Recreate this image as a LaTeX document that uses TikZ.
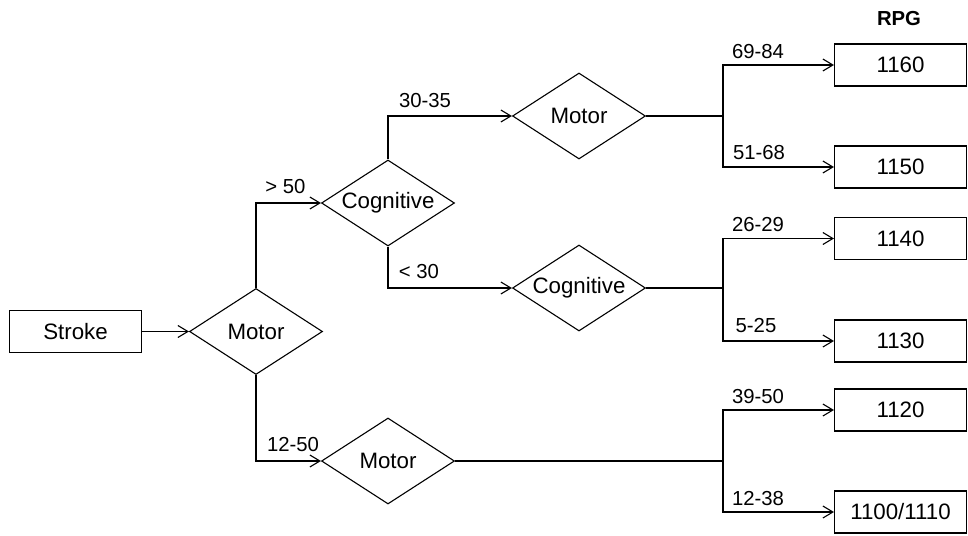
\documentclass[tikz,border=0pt]{standalone}
\usepackage{fontspec}
\setmainfont{Liberation Sans}
\usetikzlibrary{shapes.geometric,arrows.meta}
\begin{document}
\begin{tikzpicture}[x=1pt,y=-1pt,
  every node/.style={font=\fontsize{22.3}{26}\selectfont},
  dec/.style={draw,diamond,aspect=1.55,inner sep=0pt,minimum width=133pt,minimum height=86pt,line width=1.1pt},
  outbox/.style={draw,rectangle,minimum width=132pt,minimum height=42pt,inner sep=0pt,line width=1.1pt},
  conn/.style={line width=1.1pt,-{Straight Barb[length=10pt,width=12pt,line width=1.1pt]}},
  plain/.style={line width=1.1pt},
  lbl/.style={inner sep=0pt,font=\fontsize{20.3}{24}\selectfont}
]
\useasboundingbox (0,0) rectangle (968,535);
\node[outbox] (stroke) at (75.5,331.5) {Stroke};
\node[dec] (m1) at (256,331.5) {Motor};
\node[dec] (c1) at (388,203) {Cognitive};
\node[dec] (m2) at (579,116) {Motor};
\node[dec] (c2) at (579,288) {Cognitive};
\node[dec] (m3) at (388,461) {Motor};

\node[outbox] (b1160) at (900.5,65) {1160};
\node[outbox] (b1150) at (900.5,167) {1150};
\node[outbox] (b1140) at (900.5,238.5) {1140};
\node[outbox] (b1130) at (900.5,341) {1130};
\node[outbox] (b1120) at (900.5,410) {1120};
\node[outbox] (b1100) at (900.5,512) {1100/1110};
\node[lbl,font=\fontsize{20.3}{24}\selectfont\bfseries] (rpg) at (899,19) {RPG};

\coordinate (j1) at (723,116);
\coordinate (j2) at (723,288);
\coordinate (j3) at (723,461);

\draw[conn] (stroke.east) -- (m1.west);
\draw[conn] (m1.north) |- (c1.west);
\draw[conn] (c1.north) |- (m2.west);
\draw[conn] (c1.south) |- (c2.west);
\draw[conn] (m1.south) |- (m3.west);

\draw[plain] (m2.east) -- (j1);
\draw[conn] (j1) |- (b1160.west);
\draw[conn] (j1) |- (b1150.west);
\draw[plain] (c2.east) -- (j2);
\draw[conn] (j2) |- (b1140.west);
\draw[conn] (j2) |- (b1130.west);
\draw[plain] (m3.east) -- (j3);
\draw[conn] (j3) |- (b1120.west);
\draw[conn] (j3) |- (b1100.west);

\node[lbl] (l50) at (285.5,187) {> 50};
\node[lbl] (l3035) at (425,101) {30-35};
\node[lbl] (l30) at (419,272) {< 30};
\node[lbl] (l1250) at (293,445) {12-50};
\node[lbl] (l6984) at (758,51.5) {69-84};
\node[lbl] (l5168) at (759,153) {51-68};
\node[lbl] (l2629) at (758,225) {26-29};
\node[lbl] (l525) at (756,326) {5-25};
\node[lbl] (l3950) at (758,397) {39-50};
\node[lbl] (l1238) at (758,498.5) {12-38};
\end{tikzpicture}
\end{document}
